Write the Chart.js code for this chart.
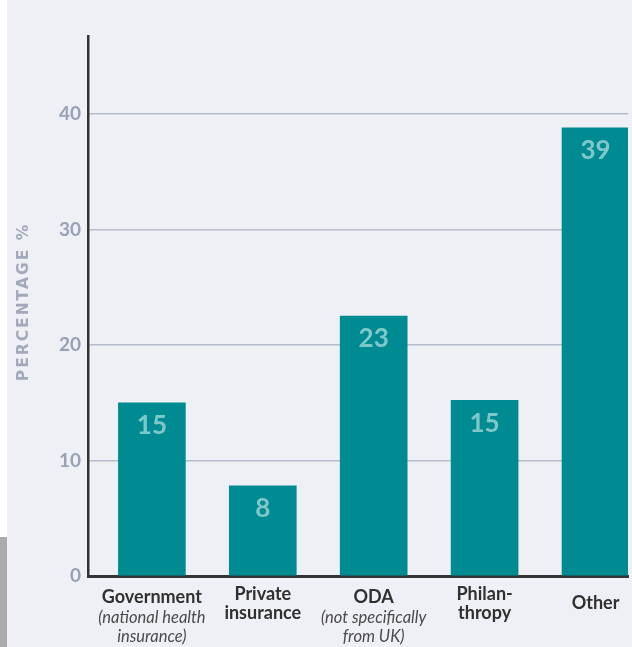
<!DOCTYPE html>
<html>
<head>
<meta charset="utf-8">
<script src="https://cdn.jsdelivr.net/npm/chart.js@4.4.1/dist/chart.umd.min.js"></script>
<style>
  html, body { margin: 0; padding: 0; background: #ffffff; }
  #wrap { position: absolute; left: 7px; top: 0; width: 625px; height: 647px; background: #eff0f5; }
  #strip { position: absolute; left: 0; top: 537px; width: 7px; height: 110px; background: #ababab; }
</style>
</head>
<body>
<div id="strip"></div>
<div id="wrap"><canvas id="chart" width="625" height="647"></canvas></div>
<script>
const categories = ["Government", "Private insurance", "ODA", "Philanthropy", "Other"];
const boldLines = [["Government"], ["Private", "insurance"], ["ODA"], ["Philan-", "thropy"], ["Other"]];
const noteLines = [["(national health", "insurance)"], [], ["(not specifically", "from UK)"], [], []];
const values = [15, 7.8, 22.5, 15.2, 38.8];
const valueLabels = ["15", "8", "23", "15", "39"];
const yTicks = [0, 10, 20, 30, 40];
const yTitle = "PERCENTAGE %";

const FONT = "Lato, 'Open Sans', sans-serif";

const labelsPlugin = {
  id: "labels",
  afterDraw(chart) {
    const ctx = chart.ctx;
    const meta = chart.getDatasetMeta(0);
    const xScale = chart.scales.x;

    ctx.save();
    ctx.textAlign = "center";
    ctx.textBaseline = "middle";

    // numbers inside bars
    ctx.fillStyle = "#7fc8ca";
    ctx.font = "bold 26px " + FONT;
    meta.data.forEach((bar, i) => {
      ctx.fillText(valueLabels[i], bar.x, bar.y + 23);
    });

    // category labels under the axis
    const base = chart.chartArea.bottom;
    categories.forEach((c, i) => {
      const x = xScale.getPixelForValue(i);
      const bold = boldLines[i];
      const notes = noteLines[i];
      let y = notes.length ? base + 21 : base + 27.5 - (bold.length - 1) * 9.5;
      ctx.fillStyle = "#303030";
      ctx.font = "bold 18px " + FONT;
      bold.forEach((t) => {
        ctx.fillText(t, x, y);
        y += 19;
      });
      ctx.fillStyle = "#4a4a4a";
      ctx.font = "italic 16.5px " + FONT;
      y += 2;
      notes.forEach((t) => {
        ctx.fillText(t, x, y);
        y += 19;
      });
    });

    // y axis title
    const top = chart.chartArea.top, bottom = chart.chartArea.bottom;
    ctx.translate(17, (top + bottom) / 2 - 4);
    ctx.rotate(-Math.PI / 2);
    ctx.fillStyle = "#a3a9bb";
    ctx.font = "bold 15.5px 'DejaVu Sans', sans-serif";
    ctx.letterSpacing = "2px";
    ctx.fillText(yTitle, 0, 0);
    ctx.restore();
  }
};

new Chart(document.getElementById("chart"), {
  type: "bar",
  data: {
    datasets: [
      {
        data: values.map((v, i) => ({ x: i, y: v })),
        backgroundColor: "#008a92",
        barThickness: 67
      }
    ]
  },
  options: {
    responsive: false,
    animation: false,
    layout: { padding: { top: 36, right: 4, left: 0, bottom: 0 } },
    plugins: { legend: { display: false }, tooltip: { enabled: false } },
    scales: {
      x: {
        type: "linear",
        offset: false,
        min: -0.576,
        max: 4.293,
        grid: { display: false, offset: false },
        border: { color: "#333333", width: 3 },
        ticks: { display: false },
        afterFit: (s) => { s.height = 71; }
      },
      y: {
        min: 0,
        max: 46.75,
        afterBuildTicks: (s) => { s.ticks = yTicks.map((v) => ({ value: v })); },
        afterFit: (s) => { s.width = 81; },
        border: { color: "#333333", width: 2.5 },
        grid: {
          drawTicks: false,
          lineWidth: 1.5,
          color: (c) => (c.tick && c.tick.value > 0 ? "#b6bbcc" : "rgba(0,0,0,0)")
        },
        ticks: {
          padding: 7,
          color: "#98a1b5",
          font: { family: FONT, size: 19, weight: "bold" }
        }
      }
    }
  },
  plugins: [labelsPlugin]
});
</script>
</body>
</html>
